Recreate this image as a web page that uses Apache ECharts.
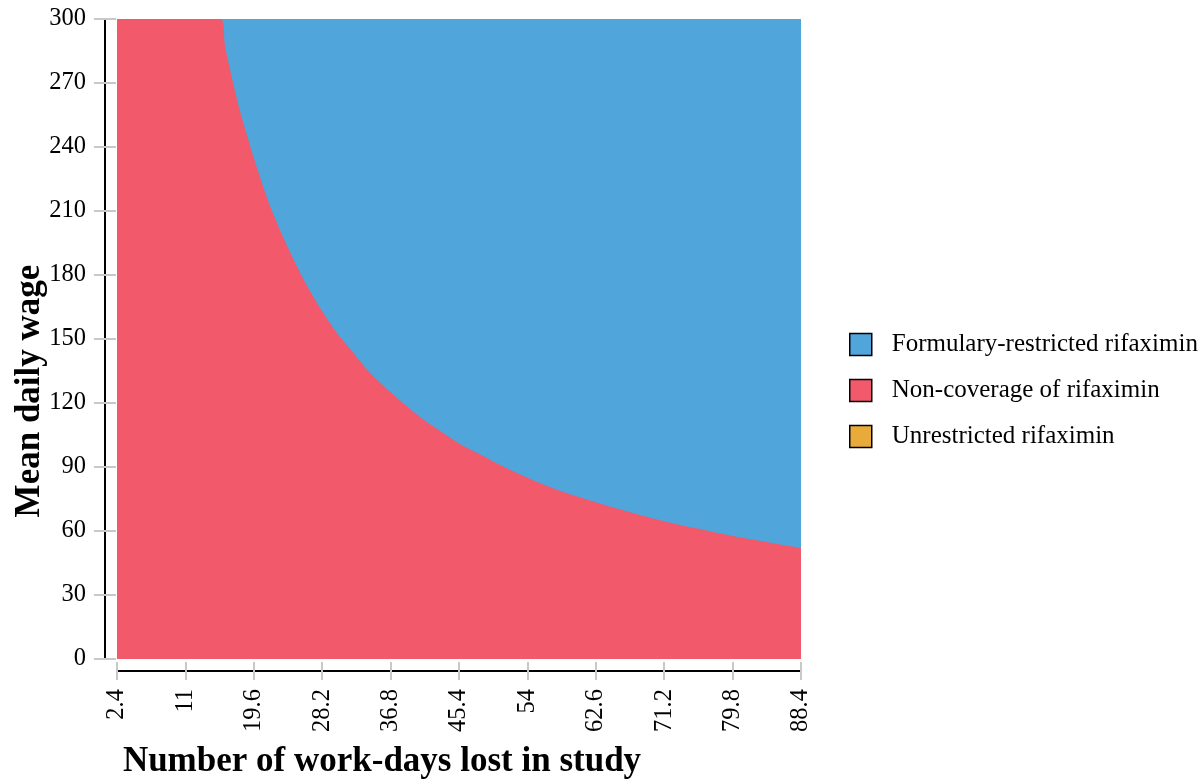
<!DOCTYPE html>
<html><head><meta charset="utf-8">
<script src="https://cdn.jsdelivr.net/npm/echarts@6/dist/echarts.min.js"></script>
<style>html,body{margin:0;padding:0;background:#fff}#c{width:1201px;height:782px}</style>
</head><body><div id="c"></div>
<script>
// Boundary between regions (mean daily wage threshold)
const daysLost = [2.4, 15.4, 16, 17, 18, 19.6, 21, 22, 24, 26, 28.2, 30, 32, 34, 36.8, 39, 41, 43, 45.4, 48, 50, 54, 58, 62.6, 67, 71.2, 75.5, 79.8, 84, 88.4];
const wageThreshold = [300, 300, 287, 270, 255, 235, 219, 209, 192, 177, 163, 153, 144, 135, 125, 118, 112, 107, 101, 96, 92, 85, 79, 73.5, 68.7, 64.6, 61, 57.6, 54.8, 52];
const xTicks = [2.4, 11, 19.6, 28.2, 36.8, 45.4, 54, 62.6, 71.2, 79.8, 88.4];
const yTicks = [0, 30, 60, 90, 120, 150, 180, 210, 240, 270, 300];
const seriesNames = ['Formulary-restricted rifaximin', 'Non-coverage of rifaximin', 'Unrestricted rifaximin'];
const colors = ['#50A5DA', '#F2596B', '#E8AB3A'];
const xRange = [2.4, 88.4];
const yRange = [0, 300];

const chart = echarts.init(document.getElementById('c'));
const font = '"Liberation Serif", "Times New Roman", serif';
const tickStyle = {color: '#c8c8c8', width: 2};
chart.setOption({
  animation: false,
  grid: {left: 117, top: 19, width: 684, height: 640, containLabel: false},
  xAxis: [
    {type: 'value', position: 'bottom', min: xRange[0], max: xRange[1], offset: 3, splitLine: {show: false},
     axisLine: {show: false, onZero: false}, axisTick: {show: true, length: 18, lineStyle: tickStyle, customValues: xTicks},
     axisLabel: {rotate: 90, margin: 27, fontFamily: font, fontSize: 24.5, color: '#000', customValues: xTicks, formatter: v => String(v)}},
    {type: 'value', position: 'bottom', min: xRange[0], max: xRange[1], offset: 12, splitLine: {show: false},
     axisLine: {show: true, onZero: false, lineStyle: {color: '#000', width: 2}}, axisTick: {show: false}, axisLabel: {show: false}}
  ],
  yAxis: [
    {type: 'value', position: 'left', min: yRange[0], max: yRange[1], offset: 1, splitLine: {show: false},
     axisLine: {show: false, onZero: false}, axisTick: {show: true, length: 22, lineStyle: tickStyle, customValues: yTicks},
     axisLabel: {margin: 30, fontFamily: font, fontSize: 24.5, color: '#000', customValues: yTicks}},
    {type: 'value', position: 'left', min: yRange[0], max: yRange[1], offset: 12, splitLine: {show: false},
     axisLine: {show: true, onZero: false, lineStyle: {color: '#000', width: 2}}, axisTick: {show: false}, axisLabel: {show: false}}
  ],
  legend: {
    orient: 'vertical', left: 849, top: 332, padding: 0, itemWidth: 22, itemHeight: 22, itemGap: 21,
    icon: 'rect', data: seriesNames,
    textStyle: {fontFamily: font, fontSize: 25, lineHeight: 22, color: '#000', padding: [0, 0, 0, 15]},
    itemStyle: {borderColor: '#000', borderWidth: 1.5}
  },
  graphic: [
    {type: 'text', style: {text: 'Number of work-days lost in study', font: 'bold 35px ' + font, fill: '#000', textAlign: 'center', textVerticalAlign: 'middle'}, x: 382, y: 762},
    {type: 'text', style: {text: 'Mean daily wage', font: 'bold 35px ' + font, fill: '#000', textAlign: 'center', textVerticalAlign: 'middle'}, x: 30, y: 391, rotation: Math.PI / 2}
  ],
  series: [
    {name: seriesNames[0], type: 'line', xAxisIndex: 0, yAxisIndex: 0, symbol: 'none', color: colors[0],
     lineStyle: {width: 0}, areaStyle: {color: colors[0], opacity: 1, origin: 'start'},
     data: [[xRange[0], yRange[1]], [xRange[1], yRange[1]]]},
    {name: seriesNames[1], type: 'line', xAxisIndex: 0, yAxisIndex: 0, symbol: 'none', smooth: 0.3, color: colors[1],
     lineStyle: {width: 0}, areaStyle: {color: colors[1], opacity: 1, origin: 'start'},
     data: daysLost.map((d, i) => [d, wageThreshold[i]])},
    {name: seriesNames[2], type: 'line', xAxisIndex: 0, yAxisIndex: 0, symbol: 'none', color: colors[2],
     lineStyle: {width: 0}, areaStyle: {color: colors[2], opacity: 1}, data: []}
  ]
});
</script></body></html>
